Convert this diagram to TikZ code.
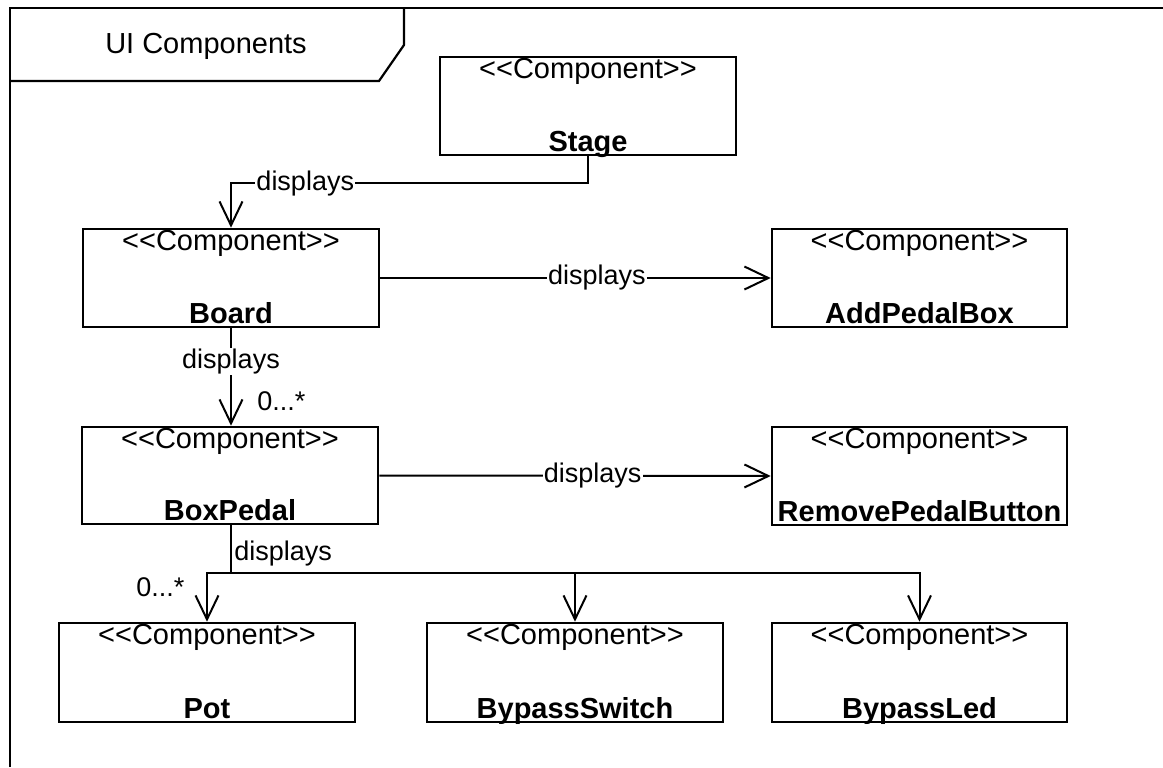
\documentclass[tikz,border=0pt]{standalone}
\usepackage{fontspec}
\newfontfamily\uifont{Liberation Sans}
\usetikzlibrary{arrows.meta}

\tikzset{
  comp/.style={draw, line width=1.3pt, fill=white, inner sep=0pt},
  stereo/.style={anchor=base, inner sep=0pt, font=\uifont\fontsize{14.5}{17}\selectfont},
  compname/.style={anchor=base, inner sep=0pt, font=\uifont\bfseries\fontsize{14.5}{17}\selectfont},
  lbl/.style={fill=white, inner sep=0.6pt, font=\uifont\fontsize{13.5}{16}\selectfont},
  plainlbl/.style={inner sep=0pt, font=\uifont\fontsize{13.5}{16}\selectfont},
  wire/.style={line width=1pt},
  conn/.style={wire, -{Straight Barb[length=12pt, width=11.5pt, line width=1pt]}},
  frameline/.style={line width=1.1pt},
}

\begin{document}
\begin{tikzpicture}[x=0.5pt, y=-0.5pt]
  \useasboundingbox (0,0) rectangle (1163,767);

  % package frame with its name tab
  \draw[frameline] (10,767) -- (10,8) -- (1163,8);
  \draw[frameline] (10,81) -- (379,81) -- (404,45) -- (404,8);
  \node[stereo] (title) at (206,53) {UI Components};

  % component boxes
  \node[comp, minimum width=148pt,  minimum height=49pt]   (stage)     at (588,106)     {};
  \node[comp, minimum width=148pt,  minimum height=49pt]   (board)     at (231,278)     {};
  \node[comp, minimum width=147.5pt,minimum height=49pt]   (addpedal)  at (919.5,278)   {};
  \node[comp, minimum width=148pt,  minimum height=48.5pt] (boxpedal)  at (230,475.5)   {};
  \node[comp, minimum width=147.5pt,minimum height=49pt]   (removebtn) at (919.5,476)   {};
  \node[comp, minimum width=148pt,  minimum height=49.5pt] (pot)       at (207,672.5)   {};
  \node[comp, minimum width=148pt,  minimum height=49.5pt] (bswitch)   at (575,672.5)   {};
  \node[comp, minimum width=147.5pt,minimum height=49.5pt] (bled)      at (919.5,672.5) {};

  % stereotypes and names
  \foreach \b/\n in {stage/Stage, board/Board, addpedal/AddPedalBox,
                     boxpedal/BoxPedal, removebtn/RemovePedalButton,
                     pot/Pot, bswitch/BypassSwitch, bled/BypassLed}{
    \node[stereo]   (\b-st) at ([yshift=-11.5pt]\b.north) {<{}<Component>{}>};
    \node[compname] (\b-nm) at ([yshift=2.4pt]\b.south) {\n};
  }

  % associations
  \draw[conn] (stage.south) -- ++(0,27)
      -| node[lbl, pos=0.396] (l1) {displays} (board.north);
  \draw[conn] (board.east) -- node[lbl, pos=0.555] (l2) {displays} (addpedal.west);
  \draw[conn] (board.south) -- node[lbl, pos=0.34] (l3) {displays} (boxpedal.north -| board.south);
  \node[plainlbl, anchor=base west] (m1) at (257,410) {0...*};
  \draw[conn] (boxpedal.east) -- node[lbl, pos=0.545] (l4) {displays} (removebtn.west);

  \coordinate (bus) at (231,573);
  \draw[wire] (boxpedal.south -| bus) -- (bus);
  \node[plainlbl, anchor=base west] (l5) at (234,560) {displays};
  \draw[conn] (bus) -| (pot.north);
  \draw[conn] (bus) -| (bswitch.north);
  \draw[conn] (bus) -| (bled.north);
  \node[plainlbl, anchor=base west] (m2) at (136,596) {0...*};
\end{tikzpicture}
\end{document}
